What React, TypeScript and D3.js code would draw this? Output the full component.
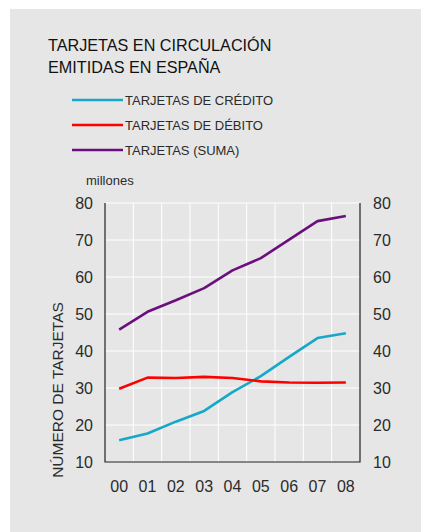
import React, { useEffect, useRef } from 'react'
import * as d3 from 'd3'

// years shown on the x axis
const years = ['00', '01', '02', '03', '04', '05', '06', '07', '08']
// millions of cards
const credito = [15.9, 17.7, 20.9, 23.8, 28.9, 33.2, 38.4, 43.5, 44.8]
const debito = [29.8, 32.8, 32.7, 33.0, 32.7, 31.8, 31.5, 31.4, 31.5]
const suma = [45.8, 50.6, 53.7, 57.0, 61.8, 65.1, 70.1, 75.1, 76.5]
const yTicks = [10, 20, 30, 40, 50, 60, 70, 80]

const seriesList = [
  { name: 'TARJETAS DE CRÉDITO', values: credito, color: '#16a7c9' },
  { name: 'TARJETAS DE DÉBITO', values: debito, color: '#ff0000' },
  { name: 'TARJETAS (SUMA)', values: suma, color: '#6c0f7e' },
]

const FONT = '"Liberation Sans", Arial, sans-serif'
const TEXT = '#2b2b2b'

export default function App() {
  const ref = useRef<SVGSVGElement>(null)

  useEffect(() => {
    const svg = d3.select(ref.current)
    svg.selectAll('*').remove()

    // grey panel
    svg.append('rect').attr('x', 10).attr('y', 9).attr('width', 411).attr('height', 523).attr('fill', '#e6e6e6')

    // title
    const title = svg.append('text').attr('x', 48).attr('font-family', FONT).attr('font-size', 16.2).attr('fill', '#111')
    title.append('tspan').attr('x', 48).attr('y', 51).text('TARJETAS EN CIRCULACIÓN')
    title.append('tspan').attr('x', 48).attr('y', 73).text('EMITIDAS EN ESPAÑA')

    // legend
    seriesList.forEach(function (s, i) {
      const ly = 100 + i * 25
      svg.append('line').attr('x1', 72).attr('x2', 123).attr('y1', ly).attr('y2', ly)
        .attr('stroke', s.color).attr('stroke-width', 2.5)
      svg.append('text').attr('x', 125).attr('y', ly + 5).attr('font-family', FONT)
        .attr('font-size', 13).attr('fill', TEXT).text(s.name)
    })

    svg.append('text').attr('x', 86).attr('y', 185).attr('font-family', FONT)
      .attr('font-size', 13).attr('fill', TEXT).text('millones')

    const left = 105, right = 360, top = 203, bottom = 462

    const x = d3.scaleBand().domain(years).range([left, right])
    const y = d3.scaleLinear().domain([10, 80]).range([bottom, top])

    const g = svg.append('g')

    // grid lines
    years.slice(1).forEach(function (yr) {
      g.append('line').attr('x1', x(yr)!).attr('x2', x(yr)!).attr('y1', top).attr('y2', bottom)
        .attr('stroke', '#ffffff').attr('stroke-width', 1)
    })
    yTicks.slice(1).forEach(function (t) {
      g.append('line').attr('x1', left).attr('x2', right).attr('y1', y(t)).attr('y2', y(t))
        .attr('stroke', '#ffffff').attr('stroke-width', 1)
    })

    // axis frame (left, bottom, right)
    g.append('path')
      .attr('d', 'M' + left + ',' + top + 'V' + bottom + 'H' + right + 'V' + top)
      .attr('fill', 'none').attr('stroke', '#222').attr('stroke-width', 1.2)

    // tick labels
    yTicks.forEach(function (t) {
      g.append('text').attr('x', 93).attr('y', y(t) + 6).attr('text-anchor', 'end')
        .attr('font-family', FONT).attr('font-size', 16).attr('fill', TEXT).text(t)
      g.append('text').attr('x', 373).attr('y', y(t) + 6)
        .attr('font-family', FONT).attr('font-size', 16).attr('fill', TEXT).text(t)
    })
    years.forEach(function (yr) {
      g.append('text').attr('x', x(yr)! + x.bandwidth() / 2).attr('y', 492).attr('text-anchor', 'middle')
        .attr('font-family', FONT).attr('font-size', 16).attr('fill', TEXT).text(yr)
    })

    // y axis title
    g.append('text')
      .attr('transform', 'translate(63,390) rotate(-90)')
      .attr('text-anchor', 'middle')
      .attr('font-family', FONT).attr('font-size', 15.5).attr('fill', TEXT)
      .text('NÚMERO DE TARJETAS')

    // lines
    const line = d3.line<number>()
      .x(function (_d, i) { return x(years[i])! + x.bandwidth() / 2 })
      .y(function (d) { return y(d) })
    seriesList.forEach(function (s) {
      g.append('path').datum(s.values).attr('d', line)
        .attr('fill', 'none').attr('stroke', s.color).attr('stroke-width', 2.6)
        .attr('stroke-linejoin', 'round')
    })
  }, [])

  return (
    <svg ref={ref} width={421} height={532}
      style={{ position: 'absolute', left: 0, top: 0, display: 'block' }} />
  )
}
